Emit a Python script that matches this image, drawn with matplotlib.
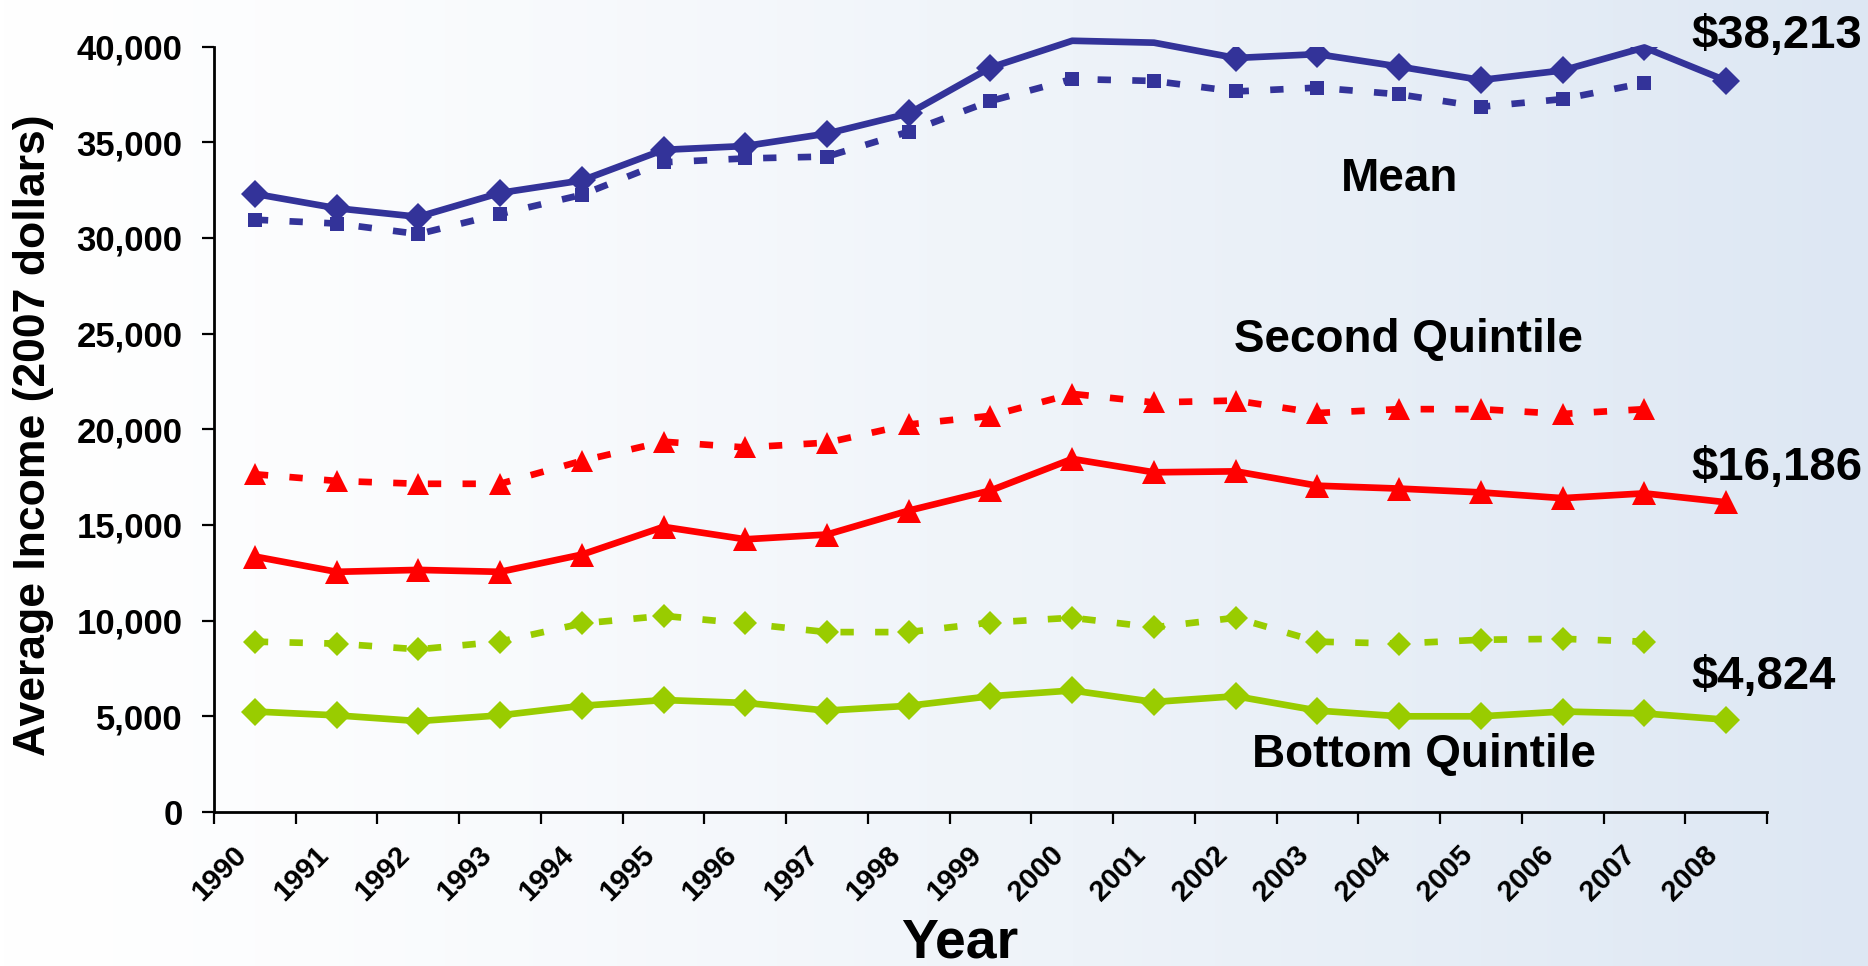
import numpy as np
import matplotlib
matplotlib.use('Agg')
import matplotlib.pyplot as plt
from matplotlib.ticker import FuncFormatter, NullFormatter
from matplotlib.transforms import ScaledTranslation

plt.rcParams['font.family'] = ['Liberation Sans', 'DejaVu Sans']
plt.rcParams['font.weight'] = 'bold'

# data (2007 dollars)
years = [str(y) for y in range(1990, 2009)]
mean_solid = [32300, 31550, 31100, 32350, 33000, 34600, 34800, 35450, 36500, 38900,
              40300, 40200, 39400, 39600, 38950, 38250, 38750, 39950, 38213]
mean_dashed = [30950, 30750, 30200, 31250, 32250, 33950, 34150, 34250, 35550, 37150,
               38300, 38200, 37650, 37850, 37500, 36850, 37250, 38100]
second_solid = [13350, 12550, 12650, 12550, 13450, 14900, 14250, 14500, 15750, 16800,
                18450, 17750, 17800, 17050, 16900, 16700, 16400, 16650, 16186]
second_dashed = [17650, 17300, 17150, 17150, 18350, 19350, 19050, 19300, 20250, 20700,
                 21850, 21400, 21500, 20850, 21050, 21050, 20800, 21050]
bottom_solid = [5250, 5050, 4750, 5050, 5550, 5850, 5700, 5300, 5550, 6050,
                6350, 5750, 6050, 5300, 5000, 5000, 5250, 5150, 4824]
bottom_dashed = [8900, 8800, 8500, 8900, 9850, 10250, 9850, 9400, 9400, 9900,
                 10150, 9650, 10150, 8900, 8800, 9000, 9050, 8900]

navy = '#333399'
red = '#FF0000'
green = '#99CC00'
ymax = 40000

fig = plt.figure(figsize=(18.68, 9.66), dpi=100)

# background gradient white -> light blue
bg = fig.add_axes([0, 0, 1, 1], zorder=-10)
ramp = np.linspace(0, 1, 512) ** 1.25
c0 = np.array([1.0, 1.0, 1.0])
c1 = np.array([0xDD, 0xE7, 0xF3]) / 255.0
grad = c0[None, None, :] + (c1 - c0)[None, None, :] * ramp[None, :, None]
bg.imshow(grad, aspect='auto', extent=[0, 1, 0, 1])
bg.axis('off')

ax = fig.add_axes([0.11456, 0.15942, 0.83137, 0.79244])
ax.patch.set_alpha(0)

x = np.arange(len(years))
dash = (0, (2, 3.2))


def draw(vals, color, ls, marker, ms):
    xs = x[:len(vals)]
    v = np.array(vals, dtype=float)
    ax.plot(xs, v, color=color, lw=4.8, linestyle=ls, dash_capstyle='butt',
            clip_on=False, zorder=3)
    # markers above the top of the axis are not drawn
    vm = np.where(v > ymax, np.nan, v)
    ax.plot(xs, vm, color=color, lw=0, marker=marker, ms=ms, mew=0, zorder=4)


draw(mean_dashed, navy, dash, 's', 10)
draw(mean_solid, navy, '-', 'D', 14)
draw(second_dashed, red, dash, '^', 16)
draw(second_solid, red, '-', '^', 17.5)
draw(bottom_dashed, green, dash, 'D', 12)
draw(bottom_solid, green, '-', 'D', 14)

ax.set_xlim(-0.5, len(years) - 0.5)
ax.set_ylim(0, ymax)
ax.set_yticks(np.arange(0, 40001, 5000))
ax.yaxis.set_major_formatter(FuncFormatter(lambda v, p: f'{int(v):,}'))
ax.tick_params(axis='y', length=8.6, width=1.6, pad=14, labelsize=25)

# ticks between categories, labels at category centres
ax.set_xticks(np.arange(-0.5, len(years)))
ax.xaxis.set_major_formatter(NullFormatter())
ax.set_xticks(x, minor=True)
ax.set_xticklabels(years, minor=True, rotation=45, ha='right', va='center',
                   rotation_mode='anchor', fontsize=21)
ax.tick_params(axis='x', which='major', length=8.6, width=1.6, direction='out')
ax.tick_params(axis='x', which='minor', length=0, pad=28)
shift = ScaledTranslation(-0.13, 0, fig.dpi_scale_trans)
for lab in ax.xaxis.get_minorticklabels():
    lab.set_transform(lab.get_transform() + shift)

for s in ['top', 'right']:
    ax.spines[s].set_visible(False)
for s in ['left', 'bottom']:
    ax.spines[s].set_linewidth(2)
    ax.spines[s].set_color('black')

ax.set_ylabel('Average Income (2007 dollars)', fontsize=32, fontweight='bold')
ax.yaxis.set_label_coords(-0.103, 0.4926)
ax.set_xlabel('Year', fontsize=40, fontweight='bold')
ax.xaxis.set_label_coords(0.48, -0.138)

# series labels and end values
ax.text(14.0, 32460, 'Mean', fontsize=33, ha='center', va='baseline')
ax.text(14.12, 24050, 'Second Quintile', fontsize=33, ha='center', va='baseline')
ax.text(14.3, 2350, 'Bottom Quintile', fontsize=33, ha='center', va='baseline')
ax.text(17.58, 39940, '$38,213', fontsize=34, ha='left', va='baseline', clip_on=False)
ax.text(17.58, 17360, '$16,186', fontsize=34, ha='left', va='baseline', clip_on=False)
ax.text(17.58, 6430, '$4,824', fontsize=34, ha='left', va='baseline', clip_on=False)

fig.savefig('out.png', dpi=100)
